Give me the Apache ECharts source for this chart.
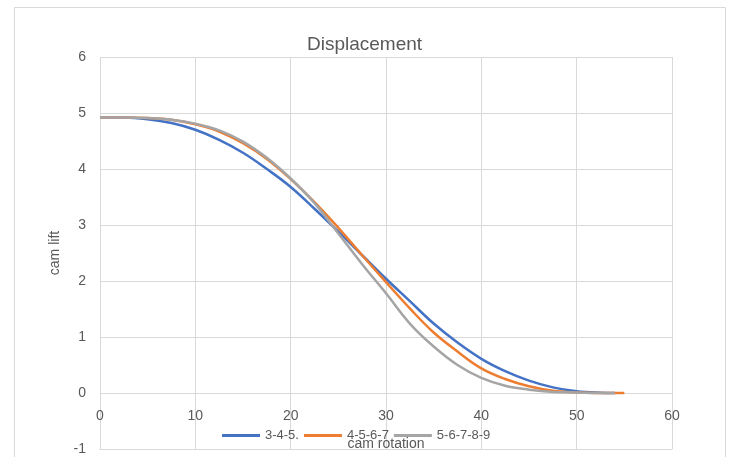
<!DOCTYPE html>
<html>
<head>
<meta charset="utf-8">
<script src="https://cdn.jsdelivr.net/npm/echarts@6/dist/echarts.min.js"></script>
<style>
  html, body { margin: 0; padding: 0; background: #fff; }
  #chart { width: 729px; height: 457px; }
</style>
</head>
<body>
<div id="chart"></div>
<script>
// cam rotation (deg)
const angles = [0, 2.5, 5, 7.5, 10, 12.5, 15, 17.5, 20, 22.5, 25, 27.5, 30, 32.5, 35, 37.5, 40, 42.5, 45, 47.5, 50, 52.5, 54, 55];
// cam lift
const lift345 = [4.92, 4.92, 4.89, 4.82, 4.70, 4.52, 4.29, 4.00, 3.68, 3.29, 2.88, 2.46, 2.04, 1.64, 1.24, 0.90, 0.61, 0.39, 0.22, 0.10, 0.03, 0.004, 0, null];
const lift4567 = [4.92, 4.92, 4.91, 4.88, 4.80, 4.67, 4.46, 4.18, 3.82, 3.41, 2.95, 2.46, 1.98, 1.51, 1.08, 0.74, 0.44, 0.25, 0.12, 0.04, 0.01, 0.001, 0, 0];
const lift56789 = [4.92, 4.92, 4.91, 4.88, 4.81, 4.69, 4.49, 4.20, 3.83, 3.39, 2.85, 2.30, 1.78, 1.24, 0.83, 0.50, 0.27, 0.13, 0.06, 0.02, 0.01, 0, 0, null];
const seriesNames = ['3-4-5.', '4-5-6-7', '5-6-7-8-9'];
const colors = ['#4472C4', '#ED7D31', '#A5A5A5'];

const textColor = '#595959';
const gridColor = '#d9d9d9';
const font = 'Liberation Sans, Arial, sans-serif';

function pairs(vals) {
  const out = [];
  vals.forEach((v, i) => { if (v !== null) out.push([angles[i], v]); });
  return out;
}

const chart = echarts.init(document.getElementById('chart'), null, { renderer: 'canvas' });

chart.setOption({
  animation: false,
  backgroundColor: '#fff',
  color: colors,
  title: [{
    text: 'Displacement',
    left: 'center',
    top: 30,
    textStyle: { fontFamily: font, fontSize: 19, fontWeight: 'normal', color: textColor }
  }, {
    // x axis title, sits under the legend like in the spreadsheet
    text: 'cam rotation',
    left: 386,
    textAlign: 'center',
    top: 437,
    padding: 0,
    textStyle: { fontFamily: font, fontSize: 14, fontWeight: 'normal', color: textColor }
  }],
  graphic: [{
    type: 'rect',
    shape: { x: 14.5, y: 7.5, width: 711, height: 470 },
    style: { fill: 'none', stroke: gridColor, lineWidth: 1 },
    silent: true
  }],
  grid: { left: 100, right: 57, top: 57, bottom: 8, outerBoundsMode: 'none', containLabel: false },
  legend: {
    left: 222,
    top: 429,
    padding: 0,
    icon: 'rect',
    itemWidth: 38,
    itemHeight: 3,
    itemGap: 5,
    textStyle: { fontFamily: font, fontSize: 13, color: textColor },
    data: seriesNames
  },
  xAxis: {
    type: 'value',
    min: 0,
    max: 60,
    interval: 10,
    axisLine: { onZero: false, lineStyle: { color: gridColor, width: 1 } },
    axisTick: { show: false },
    axisLabel: { fontFamily: font, fontSize: 14, color: textColor, margin: -40 },
    splitLine: { show: true, lineStyle: { color: gridColor, width: 1 } }
  },
  yAxis: {
    type: 'value',
    min: -1,
    max: 6,
    interval: 1,
    name: 'cam lift',
    nameLocation: 'middle',
    nameGap: 38,
    nameTextStyle: { fontFamily: font, fontSize: 14, color: textColor },
    axisLine: { show: false },
    axisTick: { show: false },
    axisLabel: { fontFamily: font, fontSize: 14, color: textColor, margin: 14 },
    splitLine: { show: true, lineStyle: { color: gridColor, width: 1 } }
  },
  series: [
    { name: seriesNames[0], type: 'line', data: pairs(lift345), smooth: 0.4, symbol: 'none', lineStyle: { width: 2.5 } },
    { name: seriesNames[1], type: 'line', data: pairs(lift4567), smooth: 0.4, symbol: 'none', lineStyle: { width: 2.5 } },
    { name: seriesNames[2], type: 'line', data: pairs(lift56789), smooth: 0.4, symbol: 'none', lineStyle: { width: 2.5 } }
  ]
});
</script>
</body>
</html>
